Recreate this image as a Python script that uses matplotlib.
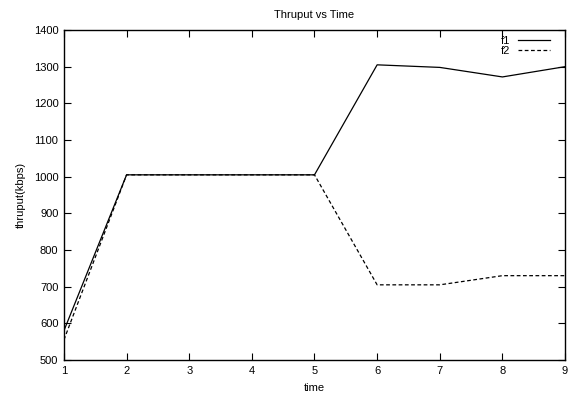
import matplotlib
matplotlib.use("Agg")
import matplotlib.pyplot as plt

plt.rcParams['font.family'] = ['Liberation Sans', 'DejaVu Sans']

time = [1, 2, 3, 4, 5, 6, 7, 8, 9]
f1 = [580, 1005, 1005, 1005, 1005, 1305, 1298, 1272, 1300]
f2 = [555, 1005, 1005, 1005, 1005, 705, 705, 730, 730]

fig = plt.figure(figsize=(5.76, 4.0), dpi=100)
ax = fig.add_axes([0.111, 0.1, 0.870, 0.825])

ax.plot(time, f1, color='black', linewidth=0.9, label='f1')
ax.plot(time, f2, color='black', linewidth=0.9, linestyle=(0, (3, 2)), label='f2')

ax.set_xlim(1, 9)
ax.set_ylim(500, 1400)
ax.set_xticks(time)
ax.set_yticks(range(500, 1401, 100))
ax.tick_params(direction='in', top=True, right=True, labelsize=8, length=5, width=0.8, pad=4)
for s in ax.spines.values():
    s.set_linewidth(1.0)

ax.set_xlabel("time", fontsize=8, labelpad=5.5)
ax.set_ylabel("thruput(kbps)", fontsize=8, labelpad=6)
ax.set_title("Thruput vs Time", fontsize=8, pad=9)

leg = ax.legend(loc='upper right', bbox_to_anchor=(0.975, 0.99), frameon=False,
                fontsize=8, markerfirst=False, handlelength=2.9, handletextpad=0.7,
                labelspacing=0.0, borderaxespad=0.0, borderpad=0.2)

fig.savefig("out.png", dpi=100)
